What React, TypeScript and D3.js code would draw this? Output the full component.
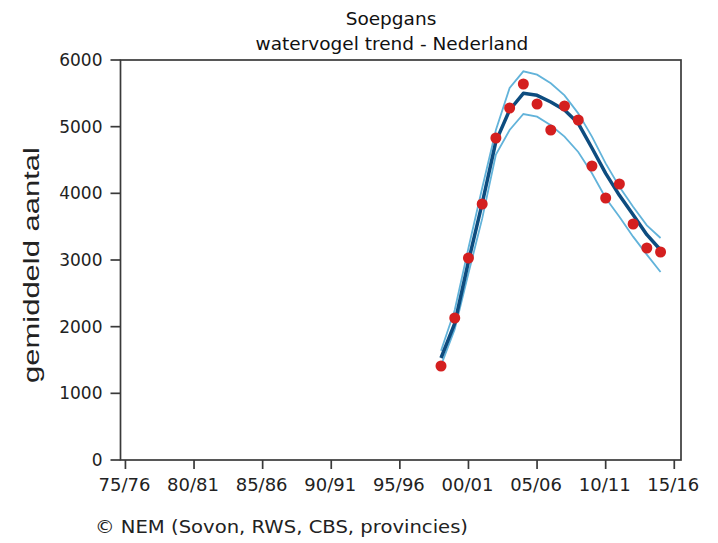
import React from "react";
import * as d3 from "d3";

const title1 = "Soepgans";
const title2 = "watervogel trend - Nederland";
const yLabel = "gemiddeld aantal";
const footer = "© NEM (Sovon, RWS, CBS, provincies)";

const xTickYears = [1975, 1980, 1985, 1990, 1995, 2000, 2005, 2010, 2015];
const xTickLabels = ["75/76", "80/81", "85/86", "90/91", "95/96", "00/01", "05/06", "10/11", "15/16"];
const yTicks = [0, 1000, 2000, 3000, 4000, 5000, 6000];

const years = [1998, 1999, 2000, 2001, 2002, 2003, 2004, 2005, 2006, 2007, 2008, 2009, 2010, 2011, 2012, 2013, 2014];
const counts = [1410, 2130, 3030, 3840, 4830, 5280, 5640, 5340, 4950, 5310, 5100, 4410, 3930, 4140, 3540, 3180, 3120];
const trend = [1530, 2050, 2980, 3850, 4780, 5250, 5500, 5470, 5370, 5250, 5050, 4680, 4300, 3970, 3680, 3380, 3150];
const upper = [1640, 2250, 3180, 4080, 4950, 5580, 5830, 5780, 5650, 5470, 5200, 4850, 4450, 4100, 3800, 3520, 3330];
const lower = [1420, 1960, 2800, 3620, 4580, 4950, 5190, 5150, 5020, 4850, 4620, 4300, 3930, 3650, 3350, 3080, 2820];

const W = 718;
const H = 543;
const left = 120.5;
const right = 681;
const top = 60;
const bottom = 460;

export default function App() {
  const x = d3.scaleLinear().domain([1974.64, 2015.49]).range([left, right]);
  const y = d3.scaleLinear().domain([0, 6000]).range([bottom, top]);
  const line = (vals: number[]) =>
    d3.line<number>().x((_, i) => x(years[i])).y((v) => y(v))(vals) || "";

  const axisColor = "#3a3a3a";
  const tickFont = "DejaVu Sans, Verdana, sans-serif";

  return (
    <svg width={W} height={H} style={{ position: "absolute", left: 0, top: 0, display: "block", background: "#fff" }}>
      <rect x={0} y={0} width={W} height={H} fill="#fff" />
      <text x={391} y={25} textAnchor="middle" fontFamily={tickFont} fontSize={18.5} fill="#111">{title1}</text>
      <text x={392} y={49.5} textAnchor="middle" fontFamily={tickFont} fontSize={18.5} fill="#111">{title2}</text>

      {/* plot frame */}
      <rect x={left} y={top} width={right - left} height={bottom - top} fill="none" stroke={axisColor} strokeWidth={1.7} />

      {/* y ticks */}
      {yTicks.map((t) => (
        <g key={"y" + t}>
          <line x1={left - 10} x2={left} y1={y(t)} y2={y(t)} stroke={axisColor} strokeWidth={1.7} />
          <text x={left - 18} y={y(t)} dy="0.36em" textAnchor="end" fontFamily={tickFont} fontSize={17} fill="#222">{t}</text>
        </g>
      ))}

      {/* x ticks */}
      {xTickYears.map((yr, i) => (
        <g key={"x" + yr}>
          <line x1={x(yr)} x2={x(yr)} y1={bottom} y2={bottom + 9} stroke={axisColor} strokeWidth={1.7} />
          <text x={x(yr) - 1} y={491} textAnchor="middle" fontFamily={tickFont} fontSize={18} fill="#222">{xTickLabels[i]}</text>
        </g>
      ))}

      <text
        transform={`translate(39,265) rotate(-90)`}
        textAnchor="middle"
        fontFamily="Liberation Sans, Arial, sans-serif"
        fontSize={22}
        textLength={236}
        lengthAdjust="spacingAndGlyphs"
        fill="#222"
      >
        {yLabel}
      </text>

      {/* bands */}
      <path d={line(upper)} fill="none" stroke="#62b3da" strokeWidth={1.8} />
      <path d={line(lower)} fill="none" stroke="#62b3da" strokeWidth={1.8} />
      {/* trend */}
      <path d={line(trend)} fill="none" stroke="#0d4c7f" strokeWidth={3.5} strokeLinejoin="round" />
      {/* observed */}
      {counts.map((c, i) => (
        <circle key={"p" + i} cx={x(years[i])} cy={y(c)} r={5.5} fill="#d41f1f" />
      ))}

      <text x={95} y={533} fontFamily={tickFont} fontSize={18} textLength={373} lengthAdjust="spacingAndGlyphs" fill="#222">{footer}</text>
    </svg>
  );
}
